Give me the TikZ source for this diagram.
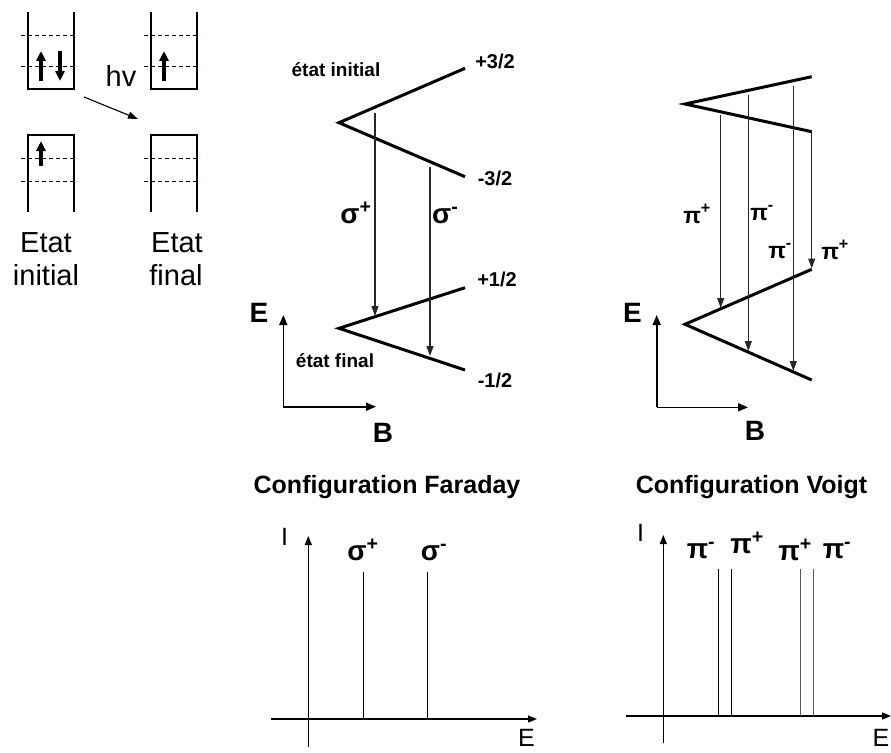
\documentclass[tikz,border=0pt]{standalone}
\usepackage{fontspec}
\setmainfont{Liberation Sans}
\usetikzlibrary{arrows.meta}
\begin{document}
\begin{tikzpicture}[x=1pt,y=-1pt,
  boxline/.style={line width=1.1pt},
  dashline/.style={line width=0.9pt, dash pattern=on 4pt off 3pt},
  level/.style={line width=3pt, line join=miter},
  trans/.style={line width=1.1pt, draw=black!85, -{Triangle[length=10pt,width=7pt]}},
  axis/.style={line width=1.6pt, -{Triangle[length=10pt,width=8pt]}},
  saxis/.style={line width=1.2pt, -{Triangle[length=9pt,width=7pt]}},
  spin/.style={line width=3.5pt, -{Triangle[length=10pt,width=9pt]}},
  peak/.style={line width=1pt},
  reg/.style={font=\fontsize{29}{33}\selectfont, inner sep=0pt, anchor=base},
  blab/.style={font=\bfseries\fontsize{28}{30}\selectfont, inner sep=0pt, anchor=base},
  slab/.style={font=\bfseries\fontsize{20}{24}\selectfont, inner sep=0pt, anchor=base},
  plab/.style={font=\bfseries\fontsize{23}{24}\selectfont, inner sep=0pt, anchor=base},
  title/.style={font=\bfseries\fontsize{25}{28}\selectfont, inner sep=0pt, anchor=base},
  ilab/.style={font=\fontsize{25}{28}\selectfont, inner sep=0pt, anchor=base},
]
\useasboundingbox (0,0) rectangle (891,752);

% ---------- top-left boxes ----------
% box 1 (initial, upper)
\draw[boxline] (28,12) -- (28,89) -- (74,89) -- (74,12);
\draw[dashline] (21,35) -- (77,35);
\draw[dashline] (21,66) -- (77,66);
\coordinate (a1s) at (41,81); \coordinate (a1e) at (41,51);
\draw[spin] (a1s) -- (a1e);
\coordinate (a2s) at (60,51); \coordinate (a2e) at (60,81);
\draw[spin] (a2s) -- (a2e);
% box 2 (final, upper)
\draw[boxline] (151,12) -- (151,89) -- (197,89) -- (197,12);
\draw[dashline] (144,35) -- (200,35);
\draw[dashline] (144,66) -- (200,66);
\coordinate (a3s) at (164,81); \coordinate (a3e) at (164,51);
\draw[spin] (a3s) -- (a3e);
% box 3 (initial, lower)
\draw[boxline] (28,212) -- (28,135) -- (74,135) -- (74,212);
\draw[dashline] (21,158) -- (77,158);
\draw[dashline] (21,181) -- (77,181);
\coordinate (a4s) at (41,166); \coordinate (a4e) at (41,141);
\draw[spin] (a4s) -- (a4e);
% box 4 (final, lower)
\draw[boxline] (151,212) -- (151,135) -- (197,135) -- (197,212);
\draw[dashline] (144,158) -- (200,158);
\draw[dashline] (144,181) -- (200,181);
% photon arrow
\node[reg] (hv) at (121,86) {hv};
\coordinate (hvs) at (84,97); \coordinate (hve) at (138,119);
\draw[line width=1.1pt, -{Triangle[length=10pt,width=7pt]}] (hvs) -- (hve);
\node[reg] (ei1) at (46,252) {Etat};
\node[reg] (ei2) at (46,285) {initial};
\node[reg] (ef1) at (177,252) {Etat};
\node[reg] (ef2) at (176,285) {final};

% ---------- Faraday Zeeman diagram ----------
\coordinate (FuV) at (339,122.7);
\coordinate (FuA) at (465,68.3);
\coordinate (FuB) at (465,176.7);
\coordinate (FlV) at (339,328.3);
\coordinate (FlA) at (465,287.7);
\coordinate (FlB) at (465,370);
\draw[level] (FuA) -- (FuV) -- (FuB);
\draw[level] (FlA) -- (FlV) -- (FlB);
\coordinate (s1s) at (375,113); \coordinate (s1e) at (375,316);
\coordinate (s2s) at (430,167); \coordinate (s2e) at (430,356);
\draw[trans] (s1s) -- (s1e);
\draw[trans] (s2s) -- (s2e);
\node[blab] (sigp) at (356,223) {σ\textsuperscript{+}};
\node[blab, anchor=base west] (sigm) at (432,223) {σ\textsuperscript{-}};
\node[slab] (m32p) at (495,68) {+3/2};
\node[slab] (m32m) at (495,185) {-3/2};
\node[slab] (m12p) at (497,286) {+1/2};
\node[slab] (m12m) at (495,387) {-1/2};
\node[font=\bfseries\fontsize{19}{22}\selectfont, inner sep=0pt, anchor=base] (ei) at (336,77) {état initial};
\node[font=\bfseries\fontsize{19}{22}\selectfont, inner sep=0pt, anchor=base] (ef) at (335,367) {état final};
\coordinate (Fo) at (283.3,406.7);
\coordinate (FE) at (283.3,315);
\coordinate (FB) at (376,406.7);
\draw[axis] (Fo) -- (FE);
\draw[axis] (Fo) -- (FB);
\node[blab] (FElab) at (259,322) {E};
\node[blab] (FBlab) at (383,442) {B};

% ---------- Voigt Zeeman diagram ----------
\coordinate (VuV) at (685,104);
\coordinate (VuA) at (811.7,76.7);
\coordinate (VuB) at (811.7,131.7);
\coordinate (VlV) at (685,324.3);
\coordinate (VlA) at (811.7,269.3);
\coordinate (VlB) at (811.7,380);
\draw[level] (VuA) -- (VuV) -- (VuB);
\draw[level] (VlA) -- (VlV) -- (VlB);
\coordinate (p1s) at (720.7,115); \coordinate (p1e) at (720.7,308);
\coordinate (p2s) at (748.3,95);  \coordinate (p2e) at (748.3,351);
\coordinate (p3s) at (793.3,86);  \coordinate (p3e) at (793.3,371);
\coordinate (p4e) at (811.7,268.5);
\draw[trans] (p1s) -- (p1e);
\draw[trans] (p2s) -- (p2e);
\draw[trans] (p3s) -- (p3e);
\draw[trans] (VuB) -- (p4e);
\node[plab] (vp1) at (697,223) {π\textsuperscript{+}};
\node[plab] (vp2) at (762,220) {π\textsuperscript{-}};
\node[plab] (vp3) at (780,258) {π\textsuperscript{-}};
\node[plab] (vp4) at (835,259) {π\textsuperscript{+}};
\coordinate (Vo) at (656.7,407.3);
\coordinate (VE) at (656.7,315);
\coordinate (VB) at (748,407.3);
\draw[axis] (Vo) -- (VE);
\draw[axis] (Vo) -- (VB);
\node[blab] (VElab) at (632.5,322) {E};
\node[blab] (VBlab) at (755,440) {B};

% ---------- titles ----------
\node[title] (tF) at (387,493) {Configuration Faraday};
\node[title] (tV) at (751.5,493) {Configuration Voigt};

% ---------- Faraday spectrum ----------
\coordinate (SFxs) at (270.7,719);
\coordinate (SFxe) at (537,719);
\coordinate (SFys) at (308.3,746.7);
\coordinate (SFye) at (308.3,536);
\draw[saxis] (SFxs) -- (SFxe);
\draw[saxis] (SFys) -- (SFye);
\coordinate (f1t) at (363.3,571.7); \coordinate (f1b) at (363.3,719);
\coordinate (f2t) at (427,571.7);   \coordinate (f2b) at (427,719);
\draw[peak] (f1t) -- (f1b);
\draw[peak] (f2t) -- (f2b);
\node[ilab] (SFI) at (284.5,545) {I};
\node[ilab] (SFE) at (526.5,746) {E};
\node[blab] (SFs1) at (363,560) {σ\textsuperscript{+}};
\node[blab] (SFs2) at (434,560) {σ\textsuperscript{-}};

% ---------- Voigt spectrum ----------
\coordinate (SVxs) at (626,716);
\coordinate (SVxe) at (891,716);
\coordinate (SVys) at (663.3,743.3);
\coordinate (SVye) at (663.3,535);
\draw[saxis] (SVxs) -- (SVxe);
\draw[saxis] (SVys) -- (SVye);
\coordinate (v1t) at (718.3,569.3); \coordinate (v1b) at (718.3,716);
\coordinate (v2t) at (731.3,569.3); \coordinate (v2b) at (731.3,716);
\coordinate (v3t) at (800.7,569.3); \coordinate (v3b) at (800.7,716);
\coordinate (v4t) at (813.7,569.3); \coordinate (v4b) at (813.7,716);
\draw[peak] (v1t) -- (v1b);
\draw[peak] (v2t) -- (v2b);
\draw[peak, draw=black!65] (v3t) -- (v3b);
\draw[peak, draw=black!65] (v4t) -- (v4b);
\node[ilab] (SVI) at (640.5,541.7) {I};
\node[ilab] (SVE) at (881,746) {E};
\node[blab] (SVp1) at (701,558) {π\textsuperscript{-}};
\node[blab] (SVp2) at (747,553) {π\textsuperscript{+}};
\node[blab] (SVp3) at (795,560) {π\textsuperscript{+}};
\node[blab] (SVp4) at (837,558) {π\textsuperscript{-}};
\end{tikzpicture}
\end{document}
